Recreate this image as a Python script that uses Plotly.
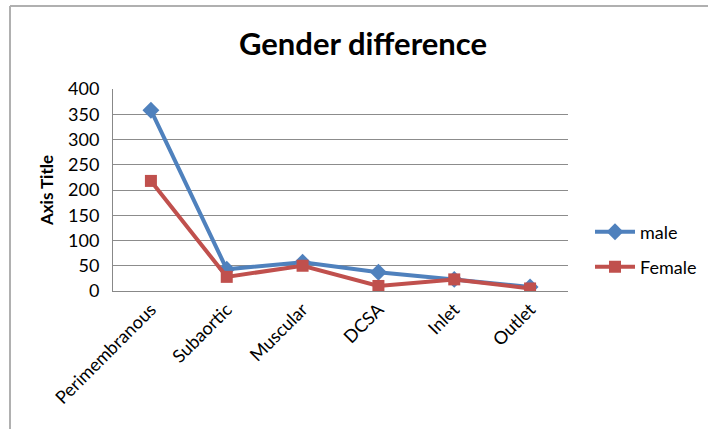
import plotly.graph_objects as go

categories = ["Perimembranous", "Subaortic", "Muscular", "DCSA", "Inlet", "Outlet"]
male = [358, 43, 57, 37, 23, 8]
female = [218, 28, 50, 10, 23, 5]
y_ticks = [0, 50, 100, 150, 200, 250, 300, 350, 400]

W, H = 708, 429
L, R, T, B = 113, 140, 89, 138
pw, ph = W - L - R, H - T - B

fig = go.Figure()
fig.add_trace(go.Scatter(x=categories, y=male, name="male", mode="lines+markers",
                         line=dict(color="#4F81BD", width=4),
                         marker=dict(symbol="diamond", size=13, color="#4F81BD"),
                         legend="legend"))
fig.add_trace(go.Scatter(x=categories, y=female, name="Female", mode="lines+markers",
                         line=dict(color="#C0504D", width=4),
                         marker=dict(symbol="square", size=12, color="#C0504D"),
                         legend="legend2"))

leg_common = dict(xanchor="left", yanchor="middle", font=dict(size=18),
                  itemwidth=40, bgcolor="rgba(0,0,0,0)")
fig.update_layout(
    width=W, height=H,
    margin=dict(l=L, r=R, t=T, b=B, autoexpand=False),
    paper_bgcolor="white", plot_bgcolor="white",
    font=dict(family="Lato, Open Sans, sans-serif", color="#000000"),
    title=dict(text="<b>Gender difference</b>", x=363 / W, xanchor="center",
               y=1 - 44 / H, yanchor="middle", font=dict(size=31, color="#000000")),
    legend=dict(x=(590 - L) / pw, y=1 - (232 - T) / ph, **leg_common),
    legend2=dict(x=(590 - L) / pw, y=1 - (267 - T) / ph, **leg_common),
    showlegend=True,
)
fig.update_xaxes(showgrid=False, showline=True, linecolor="#888888", linewidth=1,
                 tickangle=-45, tickfont=dict(size=18), ticks="",
                 range=[-0.5, 5.5])
fig.update_yaxes(range=[0, 400], tickvals=y_ticks, showgrid=True, gridcolor="#8c8c8c",
                 gridwidth=1, showline=True, linecolor="#888888", linewidth=1,
                 tickfont=dict(size=18), ticks="", zeroline=False, ticklabelstandoff=9,
                 title=dict(text="<b>Axis Title</b>", font=dict(size=17), standoff=10))

# outer chart border (left and top)
fig.add_shape(type="line", xref="paper", yref="paper",
              x0=(10 - L) / pw, x1=(10 - L) / pw, y0=1 + (T - 6) / ph, y1=-(B) / ph,
              line=dict(color="#b0b0b0", width=2))
fig.add_shape(type="line", xref="paper", yref="paper",
              x0=(10 - L) / pw, x1=(708 - L) / pw, y0=1 + (T - 6) / ph, y1=1 + (T - 6) / ph,
              line=dict(color="#b0b0b0", width=2))

fig.write_html("out.html")
